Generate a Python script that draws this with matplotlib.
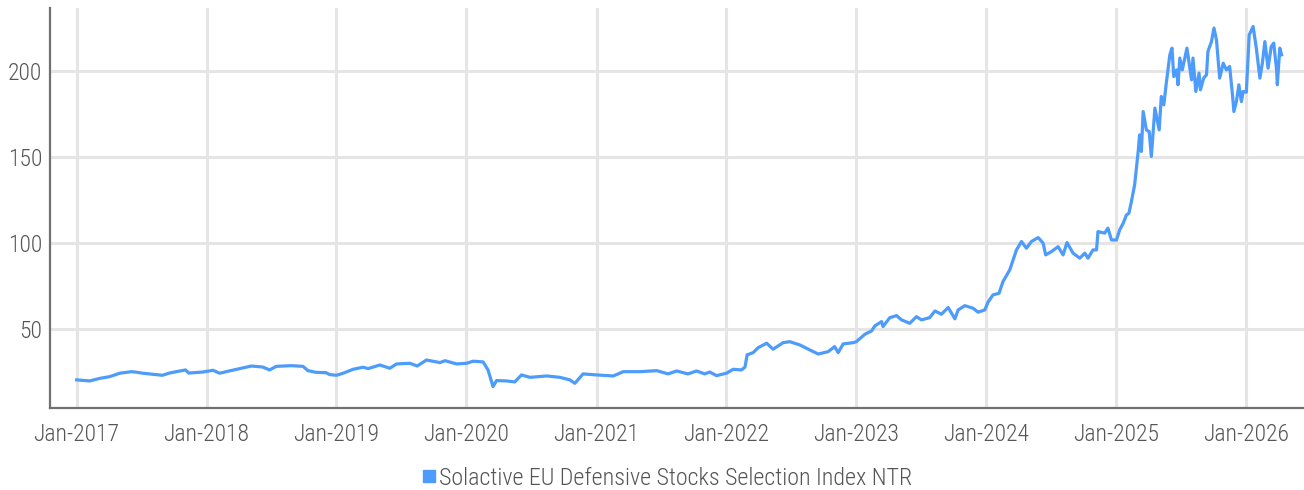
import pandas as pd
import matplotlib
matplotlib.use("Agg")
import matplotlib.pyplot as plt
import matplotlib.dates as mdates
from matplotlib import font_manager
from matplotlib.lines import Line2D

# index level (roughly every few weeks, more often where it moves a lot)
dates = [
    "2017-01-01", "2017-02-07", "2017-03-07", "2017-04-04", "2017-05-02", "2017-06-04",
    "2017-06-21", "2017-07-05", "2017-08-13", "2017-08-30", "2017-09-19", "2017-10-08",
    "2017-11-03", "2017-11-12", "2017-12-22", "2018-01-19", "2018-02-07", "2018-02-25",
    "2018-04-04", "2018-05-07", "2018-06-08", "2018-06-27", "2018-07-16", "2018-08-27",
    "2018-09-29", "2018-10-13", "2018-11-05", "2018-12-03", "2018-12-13", "2019-01-01",
    "2019-01-20", "2019-02-17", "2019-03-17", "2019-03-31", "2019-05-03", "2019-05-31",
    "2019-06-19", "2019-07-26", "2019-08-16", "2019-09-11", "2019-10-19", "2019-11-02",
    "2019-12-05", "2020-01-02", "2020-01-20", "2020-02-17", "2020-03-02", "2020-03-16",
    "2020-03-26", "2020-04-23", "2020-05-16", "2020-06-04", "2020-06-28", "2020-08-14",
    "2020-09-20", "2020-10-18", "2020-11-01", "2020-11-24", "2021-01-01", "2021-02-17",
    "2021-03-17", "2021-05-03", "2021-06-19", "2021-07-21", "2021-08-14", "2021-09-15",
    "2021-10-09", "2021-11-01", "2021-11-15", "2021-12-04", "2022-01-01", "2022-01-20",
    "2022-02-12", "2022-02-22", "2022-02-28", "2022-03-17", "2022-03-31", "2022-04-24",
    "2022-05-12", "2022-06-09", "2022-06-28", "2022-07-26", "2022-08-23", "2022-09-16",
    "2022-10-14", "2022-11-01", "2022-11-11", "2022-11-25", "2022-12-23", "2023-01-01",
    "2023-01-25", "2023-02-13", "2023-02-22", "2023-03-13", "2023-03-17", "2023-04-05",
    "2023-04-24", "2023-05-08", "2023-05-31", "2023-06-19", "2023-07-03", "2023-07-26",
    "2023-08-10", "2023-08-28", "2023-09-16", "2023-10-05", "2023-10-14", "2023-11-02",
    "2023-11-25", "2023-12-09", "2023-12-28", "2024-01-06", "2024-01-20", "2024-02-06",
    "2024-02-17", "2024-03-07", "2024-03-26", "2024-04-09", "2024-04-23", "2024-05-07",
    "2024-05-26", "2024-06-09", "2024-06-16", "2024-07-02", "2024-07-21", "2024-08-04",
    "2024-08-15", "2024-09-01", "2024-09-20", "2024-10-04", "2024-10-13", "2024-10-27",
    "2024-11-06", "2024-11-10", "2024-11-29", "2024-12-08", "2024-12-18", "2025-01-01",
    "2025-01-10", "2025-01-20", "2025-01-29", "2025-02-05", "2025-02-12", "2025-02-21",
    "2025-03-03", "2025-03-07", "2025-03-12", "2025-03-17", "2025-03-26", "2025-04-03",
    "2025-04-09", "2025-04-19", "2025-05-01", "2025-05-07", "2025-05-14", "2025-05-21",
    "2025-05-31", "2025-06-06", "2025-06-11", "2025-06-19", "2025-06-23", "2025-06-28",
    "2025-07-05", "2025-07-18", "2025-07-31", "2025-08-04", "2025-08-12", "2025-08-21",
    "2025-08-25", "2025-09-03", "2025-09-11", "2025-09-15", "2025-09-25", "2025-10-02",
    "2025-10-09", "2025-10-18", "2025-10-28", "2025-11-06", "2025-11-15", "2025-11-23",
    "2025-11-27", "2025-12-04", "2025-12-11", "2025-12-18", "2025-12-23", "2026-01-01",
    "2026-01-09", "2026-01-20", "2026-01-29", "2026-02-08", "2026-02-15", "2026-02-22",
    "2026-03-03", "2026-03-12", "2026-03-19", "2026-03-27", "2026-03-29", "2026-04-05",
    "2026-04-10",
]
values = [
    20.1, 19.5, 21.0, 22.0, 24.0, 24.9,
    24.5, 24.0, 23.2, 22.8, 24.1, 24.9,
    25.9, 24.1, 24.7, 25.7, 24.0, 24.9,
    26.7, 28.2, 27.6, 25.9, 28.0, 28.4,
    28.0, 25.5, 24.5, 24.3, 23.2, 22.8,
    24.0, 26.3, 27.5, 26.7, 28.8, 26.9,
    29.4, 29.8, 28.2, 31.7, 30.2, 31.3,
    29.4, 29.8, 31.0, 30.6, 25.9, 16.2,
    19.7, 19.5, 18.9, 23.0, 21.6, 22.4,
    21.6, 20.1, 18.1, 23.6, 23.0, 22.4,
    24.9, 24.9, 25.5, 23.6, 25.3, 23.6,
    25.3, 23.6, 24.7, 22.6, 24.0, 26.3,
    25.9, 27.5, 34.7, 36.0, 38.9, 41.5,
    38.0, 41.8, 42.4, 40.5, 37.6, 35.2,
    36.6, 39.5, 36.0, 41.1, 41.8, 42.4,
    46.7, 48.7, 51.6, 54.1, 51.2, 56.4,
    57.6, 55.1, 53.1, 57.0, 55.1, 56.4,
    60.3, 58.4, 62.3, 55.7, 60.9, 63.4,
    61.9, 59.6, 60.9, 65.4, 69.7, 70.6,
    77.4, 84.2, 95.9, 100.8, 96.9, 100.8,
    103.1, 99.8, 93.0, 94.9, 97.8, 93.0,
    100.2, 94.0, 91.1, 94.0, 91.1, 95.9,
    95.9, 106.6, 105.7, 108.6, 101.7, 101.7,
    107.6, 111.5, 116.3, 117.3, 124.1, 133.8,
    153.3, 163.0, 153.3, 176.6, 165.9, 164.9,
    150.4, 178.6, 165.9, 185.4, 180.5, 193.2,
    209.7, 213.6, 197.0, 200.9, 192.2, 207.8,
    200.9, 213.6, 195.1, 207.8, 188.3, 199.0,
    189.3, 196.1, 198.0, 211.6, 217.4, 225.3,
    218.4, 196.1, 204.8, 200.9, 202.9, 186.4,
    176.6, 182.4, 192.2, 182.4, 188.3, 187.9,
    221.3, 226.2, 213.6, 196.1, 204.8, 217.4,
    201.9, 214.6, 216.5, 200.9, 192.2, 213.6,
    209.7,
]
series_name = "Solactive EU Defensive Stocks Selection Index NTR"
y_ticks = [50, 100, 150, 200]

LINE = "#4d9bfa"
TEXT = "#555555"
GRID = "#e5e5e5"
AXIS = "#707070"

# the original uses a light condensed face; take the closest one that is installed
available = {f.name for f in font_manager.fontManager.ttflist}
fam = [f for f in ["Roboto Condensed", "Liberation Sans Narrow", "Roboto", "DejaVu Sans"]
       if f in available]
plt.rcParams["font.family"] = fam
plt.rcParams["font.weight"] = "light"

s = pd.Series(values, index=pd.to_datetime(dates))

fig = plt.figure(figsize=(13.04, 4.9), dpi=100)
ax = fig.add_axes([0.0386, 0.168, 0.9614, 0.8157])

ax.plot(s.index, s.values, color=LINE, linewidth=2.3, solid_joinstyle="round")

ax.set_xlim(pd.Timestamp("2016-10-19"), pd.Timestamp("2026-06-12"))
ax.set_ylim(3.9, 237)
ax.set_yticks(y_ticks)
ax.xaxis.set_major_locator(mdates.YearLocator(month=1, day=1))
ax.xaxis.set_major_formatter(mdates.DateFormatter("%b-%Y"))

ax.grid(True, color=GRID, linewidth=2.2)
ax.set_axisbelow(True)
for side in ["top", "right"]:
    ax.spines[side].set_visible(False)
for side in ["left", "bottom"]:
    ax.spines[side].set_color(AXIS)
    ax.spines[side].set_linewidth(1.6)

ax.tick_params(axis="both", length=0, labelcolor=TEXT, labelsize=17)
ax.tick_params(axis="x", pad=11)
ax.tick_params(axis="y", pad=6)

handle = Line2D([], [], color=LINE, marker="s", linestyle="none", markersize=9)
fig.legend([handle], [series_name], loc="center", bbox_to_anchor=(0.511, 0.024),
           frameon=False, fontsize=17.3, handletextpad=0.1, handlelength=0.7,
           borderaxespad=0, labelcolor=TEXT)

fig.savefig("out.png", dpi=100)
